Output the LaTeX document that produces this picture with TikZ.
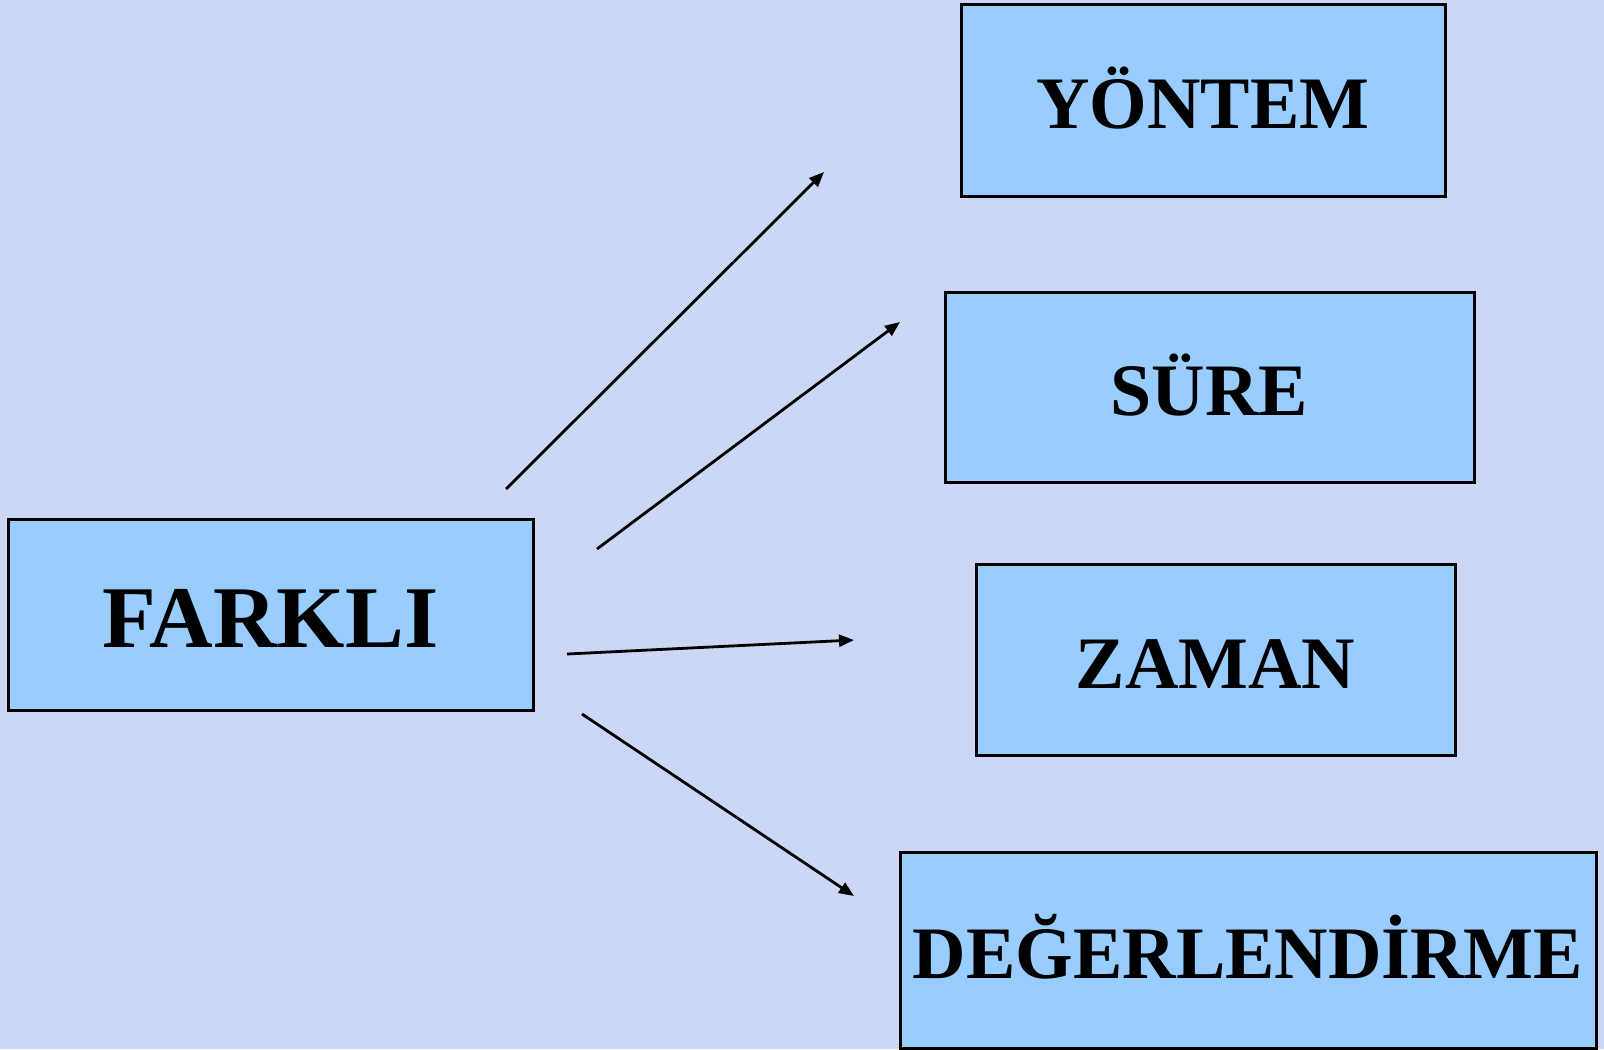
\documentclass[tikz,border=0pt]{standalone}
\usepackage{fontspec}
\setmainfont{Liberation Serif}
\usetikzlibrary{arrows.meta}
\definecolor{bgcol}{RGB}{204,214,245}
\definecolor{boxcol}{RGB}{153,204,255}
\tikzset{
  termbox/.style={draw=black, fill=boxcol, line width=1.5pt, rectangle,
    inner sep=0pt, outer sep=0pt, font=\bfseries\fontsize{37}{40}\selectfont,
    text height=28.6pt, text depth=0pt},
  bigterm/.style={font=\bfseries\fontsize{44}{48}\selectfont, text height=33.3pt},
  linkarrow/.style={draw=black, line width=1.4pt, -{Triangle[length=7.5pt,width=6pt]}}
}
\begin{document}
\begin{tikzpicture}[x=0.5pt,y=-0.5pt]
\fill[bgcol] (0,0) rectangle (1604,1049);
\useasboundingbox (0,0) rectangle (1604,1049);

\node[termbox, bigterm, minimum width=262.5pt, minimum height=95.5pt] (farkli) at (270.5,614.5) {FARKLI};
\node[termbox, minimum width=242pt, minimum height=96pt] (yontem) at (1203,100) {YÖNTEM};
\node[termbox, minimum width=264.5pt, minimum height=95pt] (sure) at (1209.5,387) {SÜRE};
\node[termbox, minimum width=239.5pt, minimum height=95.5pt] (zaman) at (1215.5,659.5) {ZAMAN};
\node[termbox, minimum width=348pt, minimum height=98pt] (deger) at (1248,950) {DEĞERLENDİRME};

\coordinate (s1) at (506,489);
\coordinate (e1) at (824,172);
\coordinate (s2) at (597,549);
\coordinate (e2) at (900,322);
\coordinate (s3) at (567,654);
\coordinate (e3) at (854,640);
\coordinate (s4) at (582,714);
\coordinate (e4) at (854,896);

\draw[linkarrow] (s1) -- (e1);
\draw[linkarrow] (s2) -- (e2);
\draw[linkarrow] (s3) -- (e3);
\draw[linkarrow] (s4) -- (e4);
\end{tikzpicture}
\end{document}
